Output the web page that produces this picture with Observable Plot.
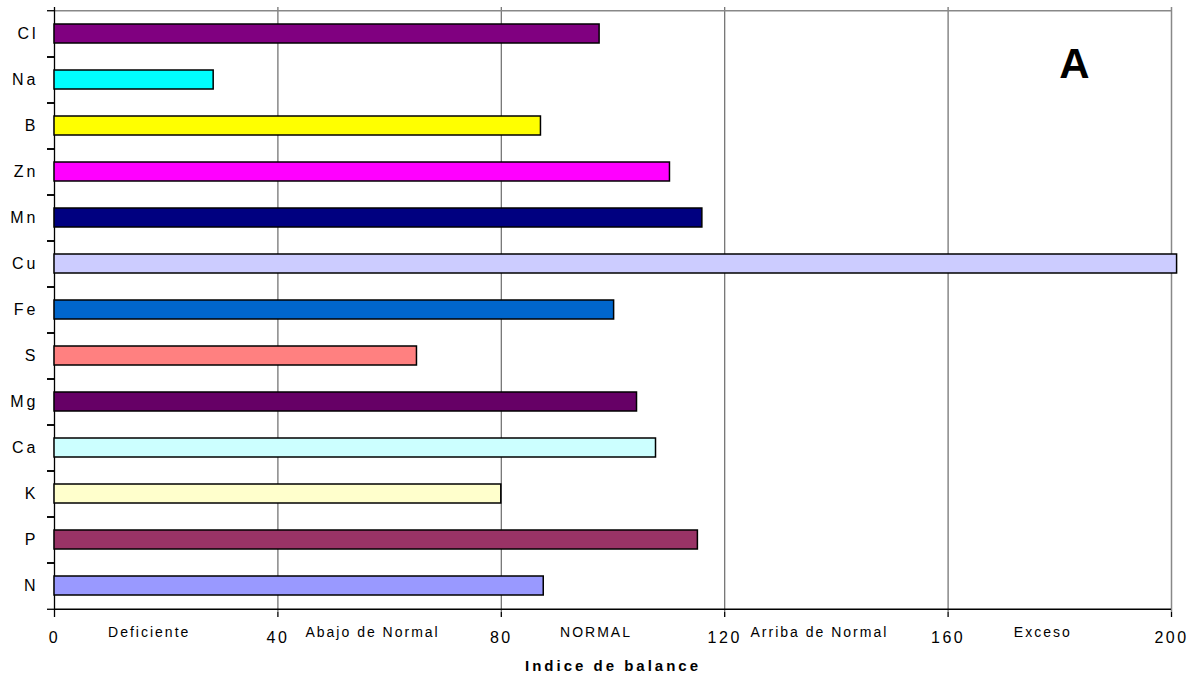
<!DOCTYPE html>
<html>
<head>
<meta charset="utf-8">
<script src="https://cdn.jsdelivr.net/npm/d3@7"></script>
<script src="https://cdn.jsdelivr.net/npm/@observablehq/plot@0.6"></script>
<style>
  body { margin: 0; background: #fff; }
  #chart svg { display: block; }
</style>
</head>
<body>
<div id="chart"></div>
<script>
// Nutrient balance index per element
const elements = ["Cl", "Na", "B", "Zn", "Mn", "Cu", "Fe", "S", "Mg", "Ca", "K", "P", "N"];
const balance = [97.6, 28.5, 87.1, 110.2, 116.0, 201, 100.2, 64.9, 104.3, 107.7, 80.0, 115.2, 87.6];
const barColors = ["#800080", "#00FFFF", "#FFFF00", "#FF00FF", "#000080", "#CCCCFF", "#0066CC",
                   "#FF8080", "#660066", "#CCFFFF", "#FFFFCC", "#993366", "#9999FF"];
const xTicks = [0, 40, 80, 120, 160, 200];
const zones = ["Deficiente", "Abajo de Normal", "NORMAL", "Arriba de Normal", "Exceso"];
const xTitle = "Indice de balance";
const panelTag = "A";

// Layout
const W = 1194, H = 679;
const mL = 54, mR = 23, mT = 7, mB = 67;
const step = (H - mT - mB) / elements.length;

const rows = elements.map((e, i) => ({element: e, value: balance[i], color: barColors[i]}));
const zoneRows = zones.map((z, i) => ({zone: z, mid: (xTicks[i] + xTicks[i + 1]) / 2}));

const chart = Plot.plot({
  width: W, height: H,
  marginLeft: mL, marginRight: mR, marginTop: mT, marginBottom: mB,
  style: {fontFamily: "'Liberation Sans', Arial, sans-serif", background: "#fff", color: "#000"},
  x: {domain: [xTicks[0], xTicks.at(-1)], label: null, axis: null},
  y: {domain: elements, paddingInner: 0.59, paddingOuter: 0.295, label: null, axis: null},
  color: {type: "identity"},
  marks: [
    // vertical grid lines and the grey top/right border
    Plot.ruleX(xTicks.slice(1, -1), {stroke: "#6a6a6a", strokeWidth: 1.2}),
    Plot.ruleX([xTicks.at(-1)], {stroke: "#888", strokeWidth: 1.5}),
    Plot.ruleY([elements[0]], {dy: -step / 2, stroke: "#888", strokeWidth: 1.5}),
    // black axis lines
    Plot.ruleX([xTicks[0]], {stroke: "#000", strokeWidth: 1.3}),
    Plot.ruleY([elements.at(-1)], {dy: step / 2, stroke: "#000", strokeWidth: 1.3}),
    // category boundary ticks on the y axis
    Plot.axisY({tickSize: 7, tickFormat: () => "", dy: -step / 2, stroke: "#000", strokeWidth: 1.3}),
    Plot.axisY({tickSize: 7, tickFormat: () => "", dy: step / 2, stroke: "#000", strokeWidth: 1.3}),
    // category labels
    Plot.axisY({tickSize: 0, tickPadding: 16, fontSize: 16}),
    // x axis
    Plot.axisX({ticks: xTicks, tickSize: 5, tickPadding: 14, fontSize: 16, stroke: "#000", strokeWidth: 1.3}),
    // bars
    Plot.barX(rows, {x: "value", y: "element", fill: "color", stroke: "#000", strokeWidth: 1.5}),
    // zone names under the axis
    Plot.text(zoneRows, {x: "mid", text: "zone", frameAnchor: "bottom", lineAnchor: "top",
                         dy: 15, dx: -17, fontSize: 14}),
    // axis title
    Plot.text([xTitle], {text: d => d, frameAnchor: "bottom", lineAnchor: "top", dy: 48,
                         fontSize: 15, fontWeight: "bold"}),
    // panel tag
    Plot.text([panelTag], {text: d => d, frameAnchor: "top-right", textAnchor: "middle",
                           lineAnchor: "middle", dx: -97, dy: 57, fontSize: 42, fontWeight: "bold"})
  ]
});

// letter spacing of the label groups, matched by their text
const tickStrings = xTicks.map(String);
chart.querySelectorAll("text").forEach(t => {
  const s = t.textContent;
  if (elements.includes(s)) t.style.letterSpacing = "3px";
  else if (tickStrings.includes(s)) t.style.letterSpacing = "2.5px";
  else if (zones.includes(s)) t.style.letterSpacing = "2px";
  else if (s === xTitle) t.style.letterSpacing = "3px";
});

document.getElementById("chart").appendChild(chart);
</script>
</body>
</html>
